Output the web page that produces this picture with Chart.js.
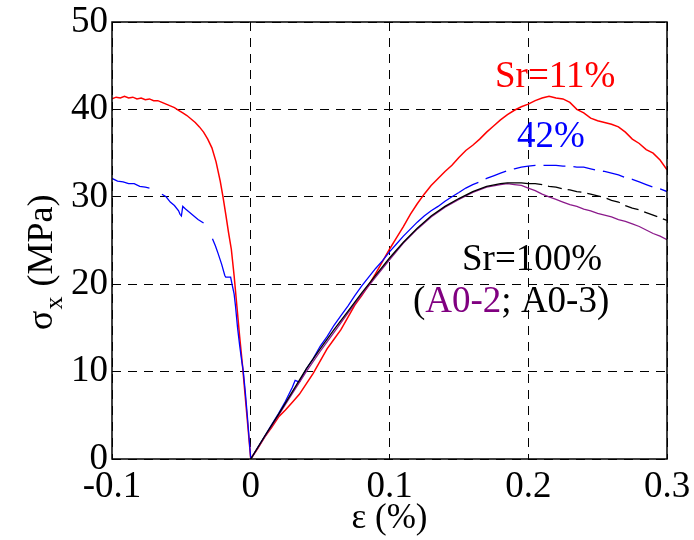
<!DOCTYPE html>
<html>
<head>
<meta charset="utf-8">
<script src="https://cdn.jsdelivr.net/npm/chart.js@4"></script>
<style>
  html, body { margin: 0; padding: 0; background: #fff; }
  #wrap { width: 694px; height: 540px; }
</style>
</head>
<body>
<div id="wrap"><canvas id="chart" width="694" height="540"></canvas></div>
<script>
// strain (%) and stress (MPa)
const redX = [-0.100, -0.097, -0.094, -0.091, -0.088, -0.085, -0.082, -0.079, -0.076, -0.073, -0.070, -0.067, -0.064, -0.061, -0.058, -0.055, -0.052, -0.049, -0.046, -0.043, -0.040, -0.037, -0.034, -0.031, -0.028, -0.025, -0.022, -0.020, -0.018, -0.016, -0.014, -0.012, -0.010, -0.008, -0.006, -0.004, -0.002, 0,
  0.005, 0.010, 0.015, 0.020, 0.025, 0.030, 0.035, 0.040, 0.045, 0.050, 0.055, 0.060, 0.065, 0.070, 0.075, 0.080, 0.085, 0.090, 0.095, 0.100,
  0.105, 0.110, 0.115, 0.120, 0.125, 0.130, 0.135, 0.140, 0.145, 0.150, 0.155, 0.160, 0.165, 0.170, 0.175, 0.180, 0.185, 0.190, 0.195, 0.200,
  0.205, 0.210, 0.215, 0.220, 0.225, 0.230, 0.235, 0.240, 0.245, 0.250, 0.255, 0.260, 0.265, 0.270, 0.275, 0.280, 0.285, 0.290, 0.295, 0.300];
const redY = [41.2, 41.4, 41.3, 41.5, 41.3, 41.4, 41.2, 41.3, 41.1, 41.2, 41.0, 41.0, 40.8, 40.6, 40.4, 40.2, 39.9, 39.6, 39.3, 38.9, 38.5, 38.0, 37.4, 36.6, 35.6, 34.0, 31.8, 30.0, 28.0, 25.9, 24.0, 21.0, 17.5, 14.0, 10.8, 7.2, 3.6, 0,
  1.2, 2.5, 3.6, 4.8, 5.6, 6.5, 7.4, 8.6, 9.8, 11.2, 12.6, 13.7, 14.8, 16.2, 17.6, 18.7, 19.9, 21.2, 22.6, 24.0,
  25.3, 26.6, 28.0, 29.2, 30.3, 31.3, 32.1, 32.9, 33.6, 34.5, 35.3, 35.9, 36.6, 37.4, 38.1, 38.8, 39.4, 39.9, 40.3, 40.6,
  41.0, 41.3, 41.5, 41.3, 41.2, 40.8, 40.0, 39.6, 39.0, 38.7, 38.5, 38.3, 38.0, 37.4, 36.6, 36.1, 35.4, 35.0, 34.2, 33.1];

const blueX = [-0.100, -0.096, -0.092, -0.088, -0.084, -0.080, -0.076, -0.073, -0.070, -0.064, -0.061, -0.058, -0.055, -0.052, -0.051, -0.050, -0.049, -0.047, -0.044, -0.041, -0.038, -0.034, -0.031,
  -0.0276, -0.0255, -0.0235, -0.021, -0.0187, -0.018, -0.0145, -0.0135, -0.012, -0.011, -0.0095, -0.008, -0.0065, -0.0055, -0.004, -0.0025, -0.001, 0,
  0.005, 0.010, 0.015, 0.020, 0.025, 0.030, 0.032, 0.035, 0.040, 0.045, 0.050, 0.055, 0.060, 0.065, 0.070, 0.075, 0.080, 0.085, 0.090, 0.095, 0.100,
  0.105, 0.110, 0.115, 0.120, 0.125, 0.130, 0.135, 0.140, 0.145, 0.150, 0.155, 0.160, 0.165, 0.170, 0.175, 0.180, 0.185, 0.190, 0.195, 0.200,
  0.205, 0.210, 0.215, 0.220, 0.225, 0.230, 0.235, 0.240, 0.245, 0.250, 0.255, 0.260, 0.265, 0.270, 0.275, 0.280, 0.285, 0.290, 0.295, 0.300];
const blueY = [32.1, 31.8, 31.7, 31.5, 31.5, 31.2, 31.1, 31.0, null, 30.3, 30.0, 29.4, 29.0, 28.4, 28.0, 27.8, 28.9, 28.6, 28.2, 27.8, 27.4, 27.0, null,
  25.2, 24.4, 23.5, 22.3, 21.0, 20.8, 20.8, 20.0, 18.9, 17.5, 15.0, 13.0, 11.2, 10.2, 7.8, 5.0, 2.0, 0,
  1.3, 2.6, 3.9, 5.2, 6.6, 8.2, 9.0, 8.8, 10.3, 11.5, 12.9, 14.0, 15.3, 16.4, 17.5, 18.7, 19.8, 20.8, 21.8, 22.7, 23.7,
  24.6, 25.5, 26.3, 27.1, 27.8, 28.4, 28.9, 29.5, 30.0, 30.5, 31.0, 31.4, 31.7, 32.1, 32.4, 32.7, 33.0, 33.2, 33.4, 33.5,
  33.6, 33.6, 33.6, 33.6, 33.5, 33.5, 33.4, 33.4, 33.2, 33.0, 32.9, 32.7, 32.5, 32.2, 32.0, 31.7, 31.4, 31.1, 30.9, 30.6];

const blackX = [0, 0.010, 0.020, 0.030, 0.040, 0.050, 0.060, 0.070, 0.080, 0.090, 0.100, 0.110, 0.120, 0.130, 0.140, 0.150, 0.160, 0.170, 0.180, 0.185, 0.190, 0.195, 0.200,
  0.205, 0.210, 0.215, 0.220, 0.225, 0.230, 0.235, 0.240, 0.245, 0.250, 0.255, 0.260, 0.265, 0.270, 0.275, 0.280, 0.285, 0.290, 0.295, 0.300];
const blackY = [0, 2.6, 5.1, 7.7, 10.3, 12.6, 14.8, 16.9, 19.0, 21.0, 23.0, 24.8, 26.4, 27.8, 28.9, 29.8, 30.6, 31.2, 31.5, 31.6, 31.6, 31.6, 31.5,
  31.5, 31.4, 31.2, 31.1, 30.9, 30.8, 30.6, 30.5, 30.3, 30.1, 29.9, 29.6, 29.4, 29.0, 28.7, 28.5, 28.2, 27.9, 27.6, 27.3];

const purpleX = [0, 0.010, 0.020, 0.030, 0.040, 0.050, 0.060, 0.070, 0.080, 0.090, 0.100, 0.110, 0.120, 0.130, 0.140, 0.150, 0.160, 0.170, 0.180, 0.185, 0.190, 0.195, 0.200,
  0.205, 0.210, 0.215, 0.220, 0.225, 0.230, 0.235, 0.240, 0.245, 0.250, 0.255, 0.260, 0.265, 0.270, 0.275, 0.280, 0.285, 0.290, 0.295, 0.300];
const purpleY = [0, 2.5, 5.0, 7.5, 10.0, 12.3, 14.5, 16.7, 18.8, 20.8, 22.8, 24.7, 26.3, 27.7, 28.8, 29.7, 30.5, 31.1, 31.4, 31.5, 31.4, 31.3, 31.0,
  30.7, 30.3, 30.0, 29.7, 29.4, 29.1, 28.9, 28.6, 28.4, 28.1, 27.9, 27.7, 27.4, 27.2, 26.9, 26.6, 26.2, 25.8, 25.5, 25.1];

const xTicks = [-0.1, 0, 0.1, 0.2, 0.3];
const yTicks = [0, 10, 20, 30, 40, 50];

const serif = "'Liberation Serif', serif";

function pts(xs, ys) {
  return xs.map((x, i) => ({ x: x, y: ys[i] }));
}

const annotations = {
  id: "annotations",
  afterDraw(chart) {
    const ctx = chart.ctx;
    const a = chart.chartArea;
    ctx.save();
    // solid frame
    ctx.strokeStyle = "#000";
    ctx.lineWidth = 1.5;
    ctx.strokeRect(a.left, a.top, a.right - a.left, a.bottom - a.top);

    ctx.font = "37px " + serif;
    ctx.textBaseline = "alphabetic";
    ctx.textAlign = "left";
    ctx.fillStyle = "#ff0000";
    ctx.fillText("Sr=11%", 495, 87);
    ctx.fillStyle = "#0000ff";
    ctx.fillText("42%", 517, 147);
    ctx.fillStyle = "#000";
    ctx.fillText("Sr=100%", 462, 270);

    let x = 413;
    const parts = [["(", "#000"], ["A0-2", "#800080"], ["; A0-3)", "#000"]];
    for (const [t, c] of parts) {
      ctx.fillStyle = c;
      ctx.fillText(t, x, 312);
      x += ctx.measureText(t).width;
    }

    // y axis title with subscript
    ctx.translate(52, 330);
    ctx.rotate(-Math.PI / 2);
    ctx.fillStyle = "#000";
    ctx.font = "36px " + serif;
    ctx.fillText("\u03c3", 0, 0);
    let w = ctx.measureText("\u03c3").width;
    ctx.font = "26px " + serif;
    ctx.fillText("x", w + 1, 10);
    w += ctx.measureText("x").width + 2;
    ctx.font = "36px " + serif;
    ctx.fillText(" (MPa)", w, 0);
    ctx.restore();
  }
};

new Chart(document.getElementById("chart"), {
  type: "line",
  data: {
    datasets: [
      {
        label: "Sr=100% A0-3",
        data: pts(blackX, blackY),
        borderColor: "#000000",
        borderWidth: 1.3,
        segment: { borderDash: c => (c.p0.parsed.x >= 0.2 ? [14, 6] : undefined) },
      },
      {
        label: "Sr=100% A0-2",
        data: pts(purpleX, purpleY),
        borderColor: "#8b1a8b",
        borderWidth: 1.3,
      },
      {
        label: "Sr=42%",
        data: pts(blueX, blueY),
        borderColor: "#0000ff",
        borderWidth: 1.3,
        segment: { borderDash: c => (c.p0.parsed.x >= 0.15 ? [22, 8] : undefined) },
      },
      {
        label: "Sr=11%",
        data: pts(redX, redY),
        borderColor: "#ff0000",
        borderWidth: 1.5,
      },
    ],
  },
  options: {
    responsive: false,
    animation: false,
    spanGaps: false,
    elements: { point: { radius: 0 }, line: { tension: 0 } },
    layout: { padding: { top: 22, right: 27, left: 0, bottom: 0 } },
    plugins: { legend: { display: false }, tooltip: { enabled: false } },
    scales: {
      x: {
        type: "linear",
        min: -0.1,
        max: 0.3,
        afterBuildTicks: s => { s.ticks = xTicks.map(v => ({ value: v })); },
        afterFit: s => { s.height = 81; s.paddingLeft = 0; s.paddingRight = 0; },
        grid: { color: "#000", lineWidth: 1, drawTicks: false },
        border: { display: false, dash: [9, 7] },
        ticks: {
          color: "#000",
          padding: 6,
          font: { family: serif, size: 37 },
          callback: v => String(Math.round(v * 10) / 10),
        },
        title: {
          display: true,
          text: "\u03b5 (%)",
          color: "#000",
          font: { family: serif, size: 35 },
          padding: { top: -8, bottom: 0 },
        },
      },
      y: {
        min: 0,
        max: 50,
        afterBuildTicks: s => { s.ticks = yTicks.map(v => ({ value: v })); },
        afterFit: s => { s.width = 112; s.paddingTop = 0; s.paddingBottom = 0; },
        grid: { color: "#000", lineWidth: 1, drawTicks: false },
        border: { display: false, dash: [9, 7] },
        ticks: {
          color: "#000",
          padding: 4,
          font: { family: serif, size: 37 },
        },
      },
    },
  },
  plugins: [annotations],
});
</script>
</body>
</html>
